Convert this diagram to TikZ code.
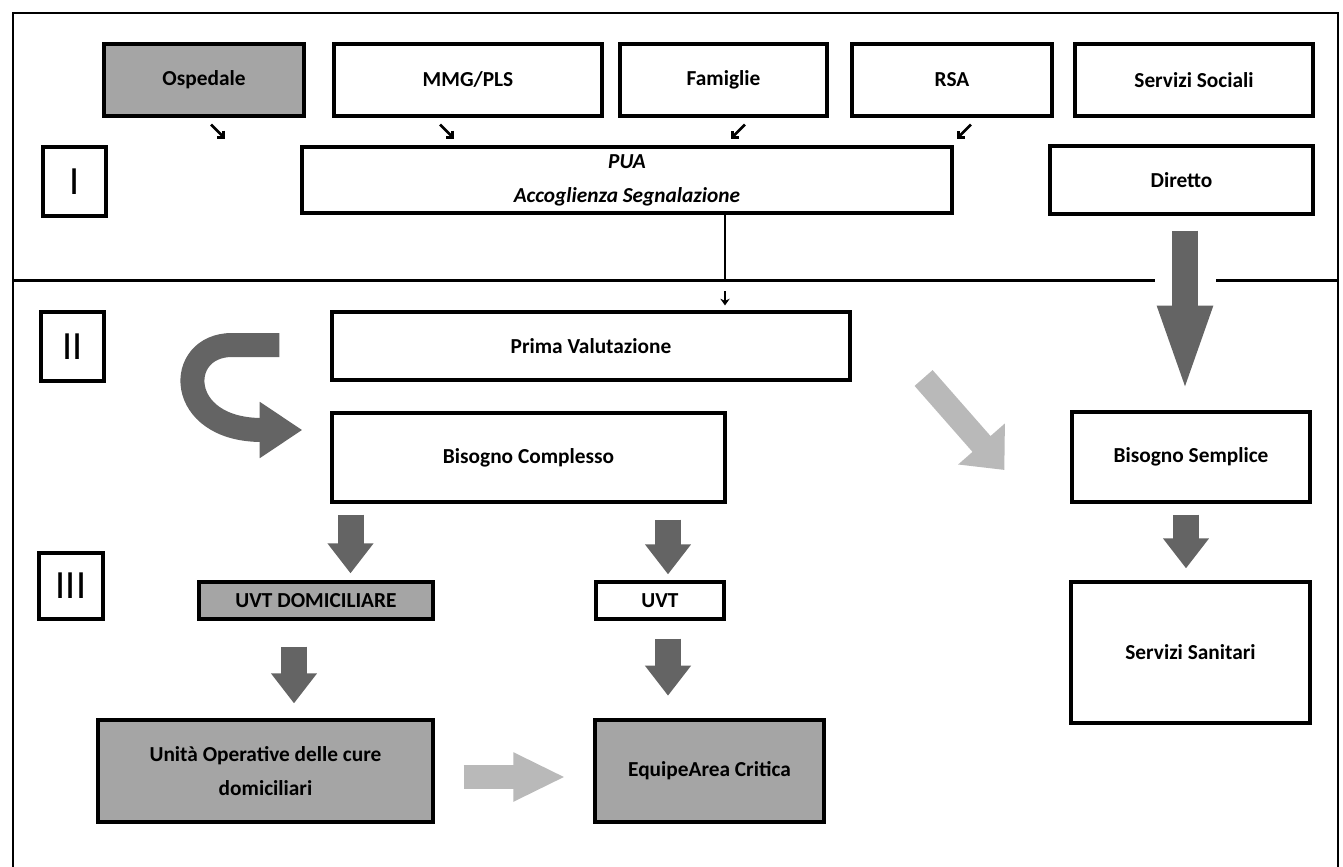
\documentclass[tikz,border=0pt]{standalone}
\usepackage{fontspec}
\setmainfont{Carlito}
\usetikzlibrary{arrows.meta,calc}
\definecolor{boxgray}{RGB}{165,165,165}
\definecolor{arrdark}{RGB}{100,100,100}
\definecolor{arrlight}{RGB}{185,185,185}
\tikzset{
  box/.style n args={2}{draw, line width=2.4pt, minimum width=#1*0.75pt, minimum height=#2*0.75pt,
    inner sep=0pt, align=center, font=\bfseries\fontsize{16}{25.5}\selectfont},
  numbox/.style n args={2}{draw, line width=2.4pt, minimum width=#1*0.75pt, minimum height=#2*0.75pt,
    inner sep=0pt, font=\fontsize{30}{30}\selectfont},
  outerframe/.style={line width=1.5pt},
  divider/.style={line width=2.25pt},
  blockarr/.style={draw=arrdark, line width=19.5pt, -{Triangle[width=33pt,length=22.5pt]}},
  tinyarr/.style={line width=2pt, -{Straight Barb[length=3.5pt,width=7pt]}},
}
\begin{document}
\begin{tikzpicture}[x=0.75pt,y=0.75pt,yscale=-1,xscale=1]
\useasboundingbox (0,0) rectangle (1343,867);
% frame and divider
\draw[outerframe] (13,867) -- (13,13) -- (1338,13) -- (1338,867);
\draw[divider] (13,280) -- (1155,280);
\draw[divider] (1216,280) -- (1338,280);
\coordinate (split) at (725,280);

% row I
\node[box={200}{72}, fill=boxgray] (osp) at (204,80) {Ospedale};
\node[box={268}{72}] (mmg) at (468,80) {MMG/PLS};
\node[box={207}{72}] (fam) at (723.5,80) {Famiglie};
\node[box={200}{72}] (rsa) at (952,80) {RSA};
\node[box={238}{72}] (soc) at (1194,80) {Servizi Sociali};
\node[numbox={63}{69}] (fI) at (74.5,181.5) {I};
\node[box={650}{66}, font=\bfseries\itshape\fontsize{16}{25.5}\selectfont] (pua) at (627,180) {PUA\\Accoglienza Segnalazione};
\node[box={263}{68}] (dir) at (1181.5,180) {Diretto};

% row II
\node[numbox={63}{69}] (fII) at (72.5,346.5) {II};
\node[box={518}{68}] (prima) at (591,346) {Prima Valutazione};
\node[box={393}{89}] (bcomp) at (528.5,457.5) {Bisogno Complesso};
\node[box={238}{90}] (bsemp) at (1191,457) {Bisogno Semplice};

% row III
\node[numbox={64}{66}] (fIII) at (71,586) {III};
\node[box={234}{37}, fill=boxgray] (uvtd) at (316,600.5) {UVT DOMICILIARE};
\node[box={128}{37}] (uvt) at (660,600.5) {UVT};
\node[box={335}{102}, fill=boxgray] (unita) at (265.5,771) {Unità Operative delle cure\\domiciliari};
\node[box={229}{102}, fill=boxgray] (equipe) at (709.5,771) {EquipeArea Critica};
\node[box={239}{141}] (sanit) at (1190.5,652.5) {Servizi Sanitari};

% small arrows into PUA
\draw[tinyarr] ($(osp.south)+(7,7)$) -- ++(14,14);
\draw[tinyarr] ($(mmg.south)+(-28,7)$) -- ++(14,14);
\draw[tinyarr] ($(fam.south)+(21.5,7)$) -- ++(-14,14);
\draw[tinyarr] ($(rsa.south)+(19,7)$) -- ++(-14,14);

% PUA down to Prima Valutazione
\draw[line width=1.5pt] (pua.south -| split) -- (split);
\draw[line width=1.5pt, -{Stealth[length=5pt,width=7pt]}, shorten >=3.75pt] ($(split)+(0,11)$) -- (split |- prima.north);

% block arrows
\draw[blockarr, line width=19pt, -{Triangle[width=36pt,length=68pt]}, shorten >=10.5pt]
  ($(dir.south)+(3.5,15)$) coordinate (a6) -- (a6 |- bsemp.north);
\draw[blockarr, shorten >=5.25pt] ($(bcomp.south)+(-178,11)$) coordinate (a1) -- (a1 |- uvtd.north);
\draw[blockarr, shorten >=4.5pt] ($(bcomp.south)+(139.5,16)$) coordinate (a2) -- (a2 |- uvt.north);
\draw[blockarr, shorten >=9pt] ($(bsemp.south)+(-5,11)$) coordinate (a3) -- (a3 |- sanit.north);
\draw[blockarr, shorten >=11.25pt] ($(uvtd.south)+(-22,26)$) coordinate (a4) -- (a4 |- unita.north);
\draw[blockarr, shorten >=17pt] ($(uvt.south)+(8,18)$) coordinate (a5) -- (a5 |- equipe.north);

% loop arrow Prima -> Complesso
\draw[draw=arrdark, line width=18pt, -{Triangle[width=40pt,length=32pt]}]
  ($(prima.west)+(-51,-1)$) -- (232,345) .. controls (175,345) and (175,430) .. (262,430)
  -- ($(bcomp.west)+(-28,-27.5)$);

% light arrows
\draw[draw=arrlight, line width=18pt, -{Triangle[width=45pt,length=26pt]}]
  ($(prima.east)+(72,32)$) -- ($(bsemp.west)+(-66,13)$);
\draw[draw=arrlight, line width=18pt, -{Triangle[width=34pt,length=39pt]}]
  ($(unita.east)+(29,6)$) -- ($(equipe.west)+(-28,6)$);
\end{tikzpicture}
\end{document}
